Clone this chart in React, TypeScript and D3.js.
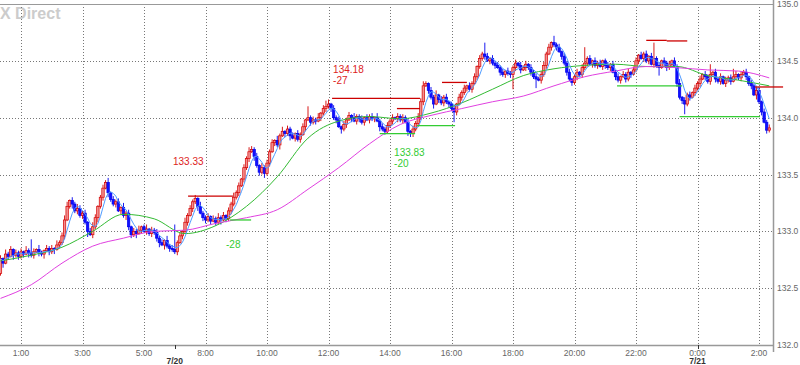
import React, { useEffect, useRef } from "react";
import * as d3 from "d3";

const width = 800;
const height = 365;

// 5-minute candles, closes in pips above 132.00 (0:20 ... 5:55, gap, 7:00 ... 2:20)
const firstOpen = 63;
const closes = [
  76, 72, 80, 78, 84, 79, 81, 78,
  82, 80, 83, 81, 79, 82, 84, 81, 80, 83, 85, 82,
  85, 84, 88, 90, 96, 110, 122, 127, 124, 118, 120, 114,
  116, 108, 100, 97, 104, 112, 122, 130, 138, 143, 134, 128,
  124, 126, 118, 121, 114, 116, 104, 97, 100, 98, 101, 104,
  100, 102, 98, 101, 99, 94, 90, 88, 92, 87, 85, 84,
  82, 90, 96, 100, 108, 114, 120, 126, 129, 122, 116, 112,
  110, 113, 109, 111, 108, 112, 110, 114, 111, 118, 124, 130,
  134, 140, 146, 156, 164, 170, 172, 166, 158, 152, 156, 151,
  160, 170, 178, 180, 176, 184, 188, 186, 190, 184, 182, 186,
  181, 185, 192, 198, 200, 196, 198, 197, 200, 204, 208, 210,
  212, 208, 200, 198, 192, 190, 194, 198, 202, 200, 197, 201,
  199, 196, 200, 198, 201, 199, 200, 197, 192, 190, 188, 193,
  197, 200, 199, 201, 198, 200, 196, 188, 186, 190, 195, 200,
  214, 228, 230, 224, 218, 212, 220, 216, 213, 218, 214, 212,
  208, 205, 212, 218, 222, 226, 228, 225, 230, 236, 245, 252,
  256, 254, 250, 252, 248, 246, 244, 240, 238, 241, 239, 238,
  244, 248, 246, 242, 244, 247, 244, 240, 236, 234, 233, 238,
  246, 256, 262, 266, 264, 262, 258, 254, 248, 240, 234, 231,
  236, 240, 238, 244, 248, 252, 247, 250, 246, 248, 245, 250,
  246, 244, 247, 240, 236, 233, 236, 238, 234, 240, 238, 242,
  250, 255, 252, 256, 250, 254, 247, 252, 246, 244, 250, 248,
  244, 247, 250, 245, 230, 218, 215, 212, 220, 218, 222, 226,
  230, 234, 238, 236, 232, 238, 240, 234, 232, 236, 230, 233,
  235, 232, 236, 238, 235, 238, 240, 236, 230, 228, 220, 224,
  214, 205, 196, 189, 191,
];

// wick lengths in pips (base 36), one char per candle
const upperWicks = [
  "31423132", "3142c3142132", "314234413243", "231343123241", "323142313241",
  "241323231423", "m23142323142", "231324231324", "231324323142", "323142413231",
  "3231a2324135", "413231323142", "231323142323", "231323231324", "342132413231",
  "231323132313", "2a3132323132", "231323132323", "323162313231", "2313e2313231",
  "231323132313", "3132313e2313", "231324132313", "231329132313", "237313231323",
  "31323",
].join("");
const lowerWicks = [
  "24131423", "231423132413", "241323124232", "325132423142", "231324332413",
  "132323414232", "231323132413", "323132413232", "231323142324", "231324132413",
  "231413231323", "232314231413", "323132314232", "231323143323", "231324132323",
  "293132323132", "231323132323", "d32313232813", "231323132323", "232323132313",
  "323132313231", "231323132713", "323132392313", "231323132313", "231323132314",
  "23132",
].join("");

// moving averages read hourly (candle index)
const maIndex = [0, 12, 24, 36, 48, 60, 72, 84, 96, 108, 120, 132, 144, 156, 168, 180, 192, 204, 216, 228, 240, 252, 264, 276, 288, 300];
const greenMA = [132.74, 132.79, 132.86, 133.0, 133.15, 133.11, 132.98, 133.05, 133.22, 133.48, 133.82, 133.97, 134.01, 133.99, 134.04, 134.13, 134.25, 134.37, 134.43, 134.46, 134.47, 134.45, 134.45, 134.37, 134.33, 134.28];
const pinkMA = [132.41, 132.53, 132.72, 132.87, 132.94, 133.0, 133.01, 133.07, 133.12, 133.19, 133.37, 133.56, 133.77, 133.94, 134.02, 134.08, 134.14, 134.19, 134.28, 134.36, 134.41, 134.45, 134.44, 134.42, 134.41, 134.35];

const tickIndex = [8, 32, 56, 80, 104, 128, 152, 176, 200, 224, 248, 272, 296];
const tickLabels = ["1:00", "3:00", "5:00", "8:00", "10:00", "12:00", "14:00", "16:00", "18:00", "20:00", "22:00", "0:00", "2:00"];
const dateIndex = [68, 272];
const dateLabels = ["7/20", "7/21"];
const priceTicks = [132.0, 132.5, 133.0, 133.5, 134.0, 134.5, 135.0];

// high / low markers: [from index, to index, price]
const highMarks = [
  [73.2, 90.7, 133.31],
  [129.4, 163.7, 134.17],
  [154.7, 163.7, 134.08],
  [172.3, 182, 134.31],
  [252, 260, 134.68],
  [260, 268, 134.675],
  [294.4, 305.4, 134.27],
];
const lowMarks = [
  [89.6, 97.8, 133.1],
  [148, 161.8, 133.86],
  [162.5, 177.4, 133.93],
  [240.6, 266, 134.28],
  [265, 296.4, 134.01],
];
// notes: [index, price, text]
const highNotes = [
  [67.3, 133.585, "133.33"],
  [129.8, 134.39, "134.18"],
  [129.8, 134.295, "-27"],
];
const lowNotes = [
  [153.6, 133.66, "133.83"],
  [153.6, 133.565, "-20"],
  [88, 132.85, "-28"],
];

const App = () => {
  const ref = useRef<SVGSVGElement>(null);

  useEffect(() => {
    const svg = d3.select(ref.current);
    svg.selectAll("*").remove();

    const x = d3.scaleLinear().domain([8, 296]).range([21, 759]);
    const y = d3.scaleLinear().domain([132, 135]).range([345, 4]);
    const right = 773;
    const font = "'Liberation Sans', Arial, sans-serif";

    // watermark
    svg.append("text")
      .attr("x", 0).attr("y", 19)
      .attr("font-family", font).attr("font-weight", "bold").attr("font-size", 16)
      .attr("fill", "#cccccc")
      .text("X Direct");

    // grid
    svg.append("g").selectAll("line")
      .data(priceTicks.filter((p) => p > 132 && p < 135))
      .join("line")
      .attr("x1", 0).attr("x2", right)
      .attr("y1", (d) => Math.round(y(d)) + 0.5).attr("y2", (d) => Math.round(y(d)) + 0.5)
      .attr("stroke", "#777").attr("stroke-dasharray", "1,2");

    svg.append("g").selectAll("line")
      .data(tickIndex)
      .join("line")
      .attr("x1", (d) => Math.round(x(d)) + 0.5).attr("x2", (d) => Math.round(x(d)) + 0.5)
      .attr("y1", y(135)).attr("y2", y(132))
      .attr("stroke", "#777").attr("stroke-dasharray", "1,2");

    // frame
    svg.append("line").attr("x1", 0).attr("x2", right)
      .attr("y1", Math.round(y(135)) + 0.5).attr("y2", Math.round(y(135)) + 0.5)
      .attr("stroke", "#999");
    svg.append("line").attr("x1", 0).attr("x2", right)
      .attr("y1", Math.round(y(132)) + 0.5).attr("y2", Math.round(y(132)) + 0.5)
      .attr("stroke", "#999").attr("stroke-width", 1.5);
    svg.append("line").attr("x1", right + 0.5).attr("x2", right + 0.5)
      .attr("y1", 0).attr("y2", 352)
      .attr("stroke", "#999").attr("stroke-width", 1.5);

    // price labels
    svg.append("g").selectAll("text")
      .data(priceTicks)
      .join("text")
      .attr("x", right + 4).attr("y", (d) => y(d) + 3)
      .attr("font-family", font).attr("font-size", 8.5).attr("fill", "#666")
      .text((d) => d.toFixed(1));

    // time labels
    svg.append("g").selectAll("text")
      .data(tickIndex)
      .join("text")
      .attr("x", (d) => x(d)).attr("y", 355.5)
      .attr("text-anchor", "middle")
      .attr("font-family", font).attr("font-size", 8.5).attr("fill", "#666")
      .text((d, i) => tickLabels[i]);

    svg.append("g").selectAll("text")
      .data(dateIndex)
      .join("text")
      .attr("x", (d) => x(d)).attr("y", 364)
      .attr("text-anchor", "middle")
      .attr("font-family", font).attr("font-size", 8.5).attr("font-weight", "bold").attr("fill", "#333")
      .text((d, i) => dateLabels[i]);

    svg.append("g").selectAll("line")
      .data(dateIndex)
      .join("line")
      .attr("x1", (d) => Math.round(x(d)) + 0.5).attr("x2", (d) => Math.round(x(d)) + 0.5)
      .attr("y1", 345).attr("y2", 349)
      .attr("stroke", "#333");

    // candles
    const candles = closes.map((c, i) => {
      const o = i === 0 ? firstOpen : closes[i - 1];
      const hi = Math.max(o, c) + parseInt(upperWicks[i] || "1", 36);
      const lo = Math.min(o, c) - parseInt(lowerWicks[i] || "1", 36);
      return { i, o: 132 + o / 100, c: 132 + c / 100, h: 132 + hi / 100, l: 132 + lo / 100 };
    });

    const g = svg.append("g");
    const bw = 2.4;
    g.selectAll("line")
      .data(candles)
      .join("line")
      .attr("x1", (d) => x(d.i)).attr("x2", (d) => x(d.i))
      .attr("y1", (d) => y(d.h)).attr("y2", (d) => y(d.l))
      .attr("stroke", (d) => (d.c >= d.o ? "#d40000" : "#0000ee"))
      .attr("stroke-width", 0.9);
    g.selectAll("rect")
      .data(candles)
      .join("rect")
      .attr("x", (d) => x(d.i) - bw / 2)
      .attr("width", bw)
      .attr("y", (d) => y(Math.max(d.o, d.c)))
      .attr("height", (d) => Math.max(0.8, Math.abs(y(d.o) - y(d.c))))
      .attr("fill", (d) => (d.c >= d.o ? "#f29090" : "#1010ff"))
      .attr("stroke", (d) => (d.c >= d.o ? "#d40000" : "#0000ee"))
      .attr("stroke-width", 0.7);

    // moving averages
    const smooth = d3.line<number>()
      .x((d, i) => x(maIndex[i]))
      .y((d) => y(d))
      .curve(d3.curveMonotoneX);
    svg.append("path").attr("d", smooth(greenMA))
      .attr("fill", "none").attr("stroke", "#33bb33").attr("stroke-width", 1);
    svg.append("path").attr("d", smooth(pinkMA))
      .attr("fill", "none").attr("stroke", "#e040e0").attr("stroke-width", 1);

    const fast = candles.map((d, i) => {
      const win = candles.slice(Math.max(0, i - 4), i + 1);
      return { i, v: d3.mean(win, (w) => w.c) as number };
    });
    svg.append("path")
      .attr("d", d3.line<{ i: number; v: number }>().x((d) => x(d.i)).y((d) => y(d.v))(fast))
      .attr("fill", "none").attr("stroke", "#4f9cff").attr("stroke-width", 1);

    // high / low markers
    svg.append("g").selectAll("line")
      .data(highMarks)
      .join("line")
      .attr("x1", (d) => x(d[0])).attr("x2", (d) => x(d[1]))
      .attr("y1", (d) => y(d[2])).attr("y2", (d) => y(d[2]))
      .attr("stroke", "#cc0000").attr("stroke-width", 1.3);
    svg.append("g").selectAll("line")
      .data(lowMarks)
      .join("line")
      .attr("x1", (d) => x(d[0])).attr("x2", (d) => x(d[1]))
      .attr("y1", (d) => y(d[2])).attr("y2", (d) => y(d[2]))
      .attr("stroke", "#33cc33").attr("stroke-width", 1.3);

    svg.append("g").selectAll("text")
      .data(highNotes)
      .join("text")
      .attr("x", (d) => x(d[0] as number)).attr("y", (d) => y(d[1] as number))
      .attr("font-family", font).attr("font-size", 10).attr("fill", "#dd2222")
      .text((d) => d[2] as string);
    svg.append("g").selectAll("text")
      .data(lowNotes)
      .join("text")
      .attr("x", (d) => x(d[0] as number)).attr("y", (d) => y(d[1] as number))
      .attr("font-family", font).attr("font-size", 10).attr("fill", "#33cc33")
      .text((d) => d[2] as string);
  }, []);

  return (
    <svg
      ref={ref}
      width={width}
      height={height}
      style={{ position: "absolute", left: 0, top: 0, background: "#fff" }}
    />
  );
};

export default App;
